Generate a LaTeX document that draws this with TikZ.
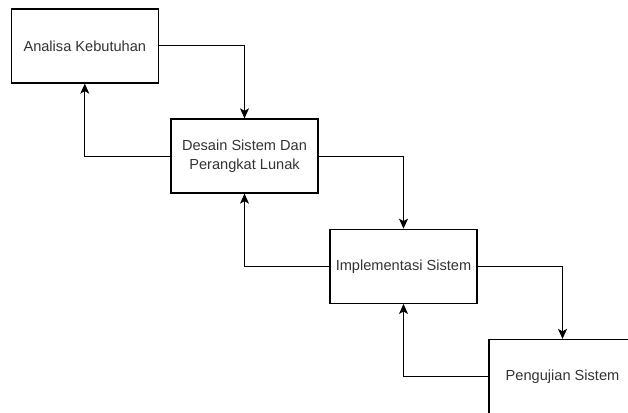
\documentclass[tikz,border=0pt]{standalone}
\usepackage{fontspec}
\setmainfont{Liberation Sans}
\usetikzlibrary{arrows.meta}
\definecolor{txt}{HTML}{333333}
\tikzset{
  box/.style={draw=black, line width=1.3pt, fill=white, rectangle, minimum width=147pt, minimum height=74pt, inner sep=0pt, align=center, text=txt, font=\fontsize{14.6pt}{19pt}\selectfont},
  arr/.style={draw=black, line width=1pt, -{Stealth[length=10pt,width=9pt,inset=2.5pt]}}
}
\begin{document}
\begin{tikzpicture}[x=1pt,y=-1pt]
\useasboundingbox (0,0) rectangle (628,412);
\clip (0,0) rectangle (628,412);
\node[box] (b1) at (84.8,46) {Analisa Kebutuhan};
\node[box] (b2) at (244.5,156) {Desain Sistem Dan\\Perangkat Lunak};
\node[box] (b3) at (403.5,266.3) {Implementasi Sistem};
\node[box] (b4) at (562.5,376.5) {Pengujian Sistem};
\draw[arr] (b1.east) -| (b2.north);
\draw[arr] (b2.west) -| (b1.south);
\draw[arr] (b2.east) -| (b3.north);
\draw[arr] (b3.west) -| (b2.south);
\draw[arr] (b3.east) -| (b4.north);
\draw[arr] (b4.west) -| (b3.south);
\end{tikzpicture}
\end{document}
